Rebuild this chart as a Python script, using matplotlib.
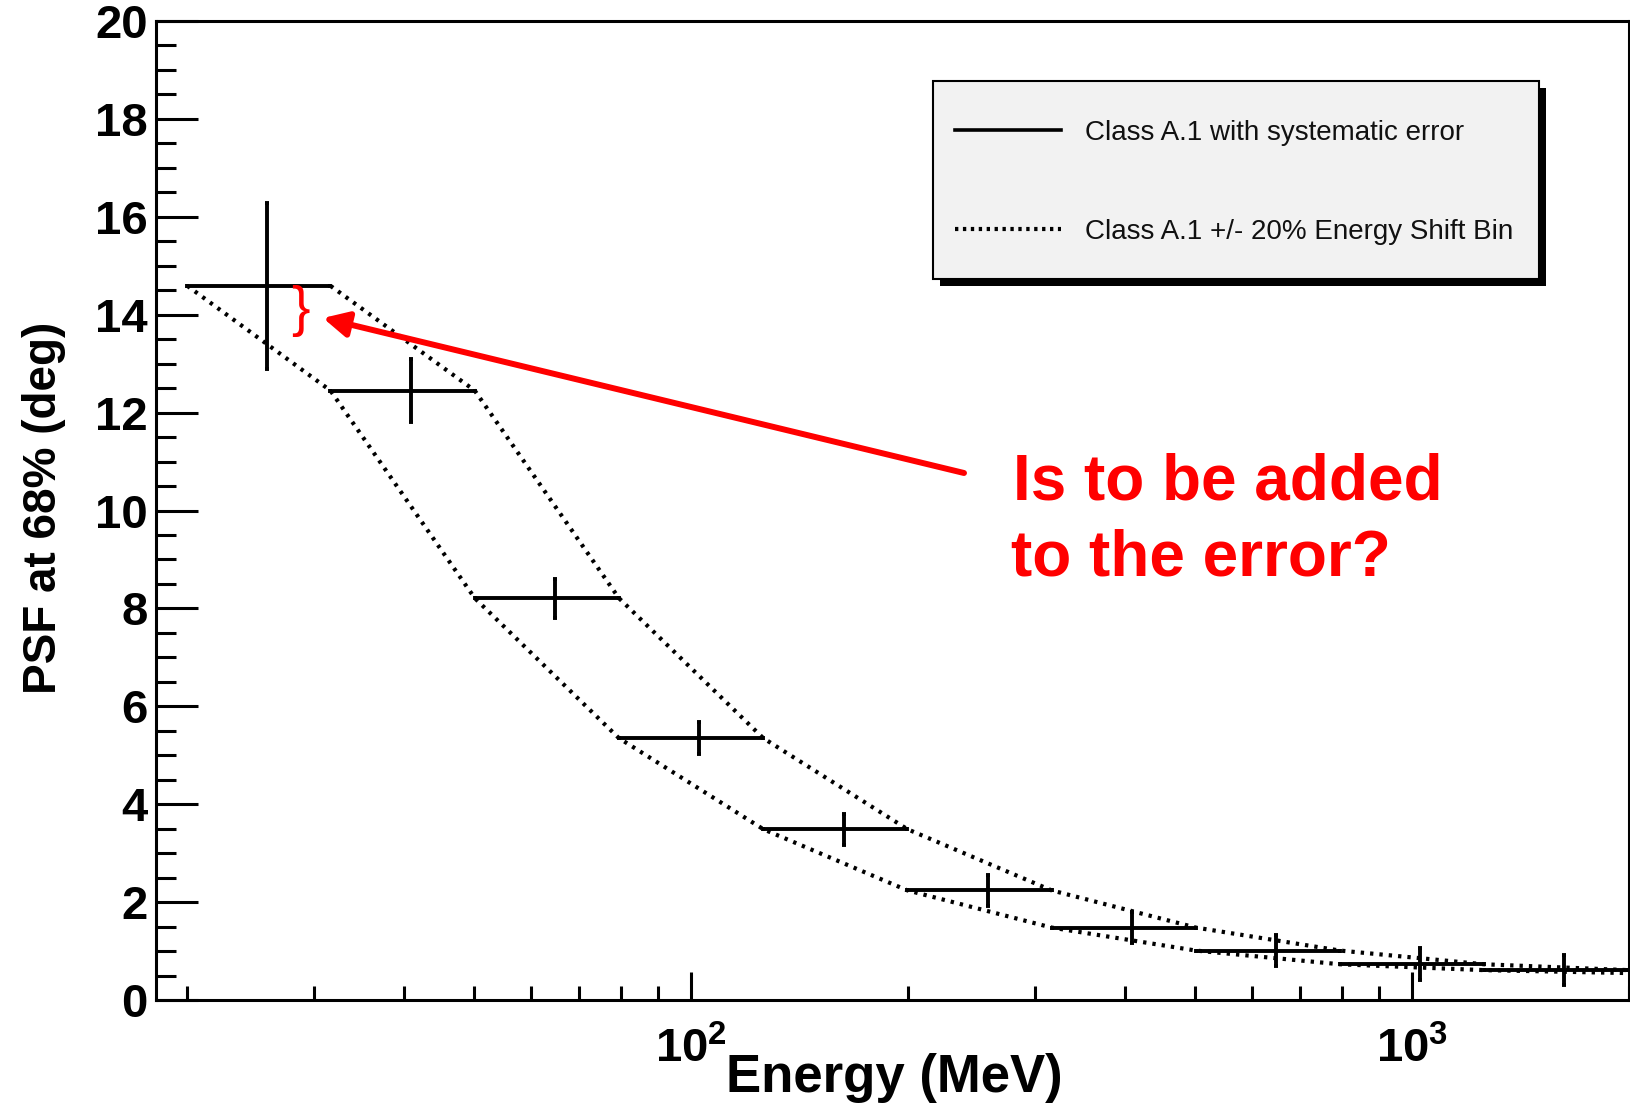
import matplotlib
matplotlib.use("Agg")
import matplotlib.pyplot as plt
import numpy as np
from matplotlib.ticker import LogLocator, FuncFormatter, MultipleLocator, NullFormatter
from matplotlib.lines import Line2D
from matplotlib.patches import Rectangle

plt.rcParams['font.family'] = ['Liberation Sans', 'DejaVu Sans']
plt.rcParams['font.weight'] = 'bold'
plt.rcParams['mathtext.fontset'] = 'custom'
plt.rcParams['mathtext.rm'] = 'Liberation Sans:bold'
plt.rcParams['mathtext.bf'] = 'Liberation Sans:bold'
plt.rcParams['mathtext.it'] = 'Liberation Sans:bold:italic'

# ---------------- data ----------------
bin_low = [20.0, 31.6, 50.1, 79.4, 125.9, 199.5, 316.2, 501.2, 794.3, 1258.9]
bin_high = [31.6, 50.1, 79.4, 125.9, 199.5, 316.2, 501.2, 794.3, 1258.9, 1995.3]
energy = [25.8, 40.9, 64.8, 102.7, 162.7, 257.9, 408.7, 647.8, 1026.6, 1627.1]
psf68 = [14.59, 12.45, 8.21, 5.35, 3.49, 2.24, 1.48, 1.01, 0.73, 0.61]
psf68_err = [1.70, 0.64, 0.40, 0.33, 0.32, 0.31, 0.31, 0.31, 0.33, 0.31]

shift_low_x = [20.0, 31.6, 50.1, 79.4, 125.9, 199.5, 316.2, 501.2, 794.3, 1258.9, 1995.3]
shift_low_y = [14.59, 12.45, 8.21, 5.35, 3.49, 2.24, 1.48, 1.01, 0.73, 0.61, 0.55]
shift_high_x = [31.6, 50.1, 79.4, 125.9, 199.5, 316.2, 501.2, 794.3, 1258.9, 1995.3]
shift_high_y = [14.59, 12.45, 8.21, 5.35, 3.49, 2.24, 1.48, 1.01, 0.73, 0.61]

legend_labels = ["Class A.1 with systematic error", "Class A.1 +/- 20% Energy Shift Bin"]
x_title = "Energy (MeV)"
y_title = "PSF at 68% (deg)"
note_lines = ["Is to be added", "to the error?"]

# ---------------- figure ----------------
W, H = 1631, 1105
fig = plt.figure(figsize=(W / 100, H / 100), dpi=100)
fig.patch.set_facecolor('white')

def fx(px):
    return px / W

def fy(py):
    return 1 - py / H

ax = fig.add_axes([fx(156), fy(1000), fx(1629) - fx(156), fy(21) - fy(1000)])

energy = np.array(energy)
xerr = [energy - np.array(bin_low), np.array(bin_high) - energy]
ax.errorbar(energy, psf68, xerr=xerr, yerr=psf68_err, fmt='none', ecolor='black',
            elinewidth=2.8, capsize=1.3, capthick=2.8, zorder=3)

dot = (0, (0.8, 1.45))
ax.plot(shift_low_x, shift_low_y, color='black', lw=3.0, ls=dot, zorder=2)
ax.plot(shift_high_x, shift_high_y, color='black', lw=3.0, ls=dot, zorder=2)

ax.set_xscale('log')
ax.set_xlim(18.1, 2000)
ax.set_ylim(0, 20)

ax.xaxis.set_major_locator(LogLocator(base=10, numticks=10))
ax.xaxis.set_minor_locator(LogLocator(base=10, subs=np.arange(2, 10), numticks=20))
ax.xaxis.set_major_formatter(FuncFormatter(lambda v, p: r'$\mathbf{10^{%d}}$' % round(np.log10(v))))
ax.xaxis.set_minor_formatter(NullFormatter())
ax.yaxis.set_major_locator(MultipleLocator(2))
ax.yaxis.set_minor_locator(MultipleLocator(0.5))

for s in ax.spines.values():
    s.set_linewidth(2.2)

ax.tick_params(axis='y', which='major', direction='in', length=30, width=2.2, pad=6,
               labelsize=34, left=True, right=False)
ax.tick_params(axis='y', which='minor', direction='in', length=14.5, width=2.2,
               left=True, right=False)
ax.tick_params(axis='x', which='major', direction='in', length=20, width=2.2, pad=20,
               labelsize=34, bottom=True, top=False)
ax.tick_params(axis='x', which='minor', direction='in', length=10, width=2.2,
               bottom=True, top=False)

ax.set_xlabel(x_title, fontsize=38, fontweight='bold')
ax.xaxis.label.set_va('baseline')
ax.xaxis.set_label_coords(0.501, -(1092 - 1000) / 979)
ax.set_ylabel(y_title, fontsize=33, fontweight='bold')
ax.yaxis.set_label_coords((66 - 156) / 1473, 0.503)

# ---------------- legend ----------------
lx0, ly0, lx1, ly1 = 933, 81, 1539, 279
shadow = Rectangle((fx(lx0 + 7), fy(ly1 + 7)), fx(lx1) - fx(lx0), fy(ly0) - fy(ly1),
                   transform=fig.transFigure, facecolor='black', edgecolor='none',
                   zorder=4, clip_on=False)
frame = Rectangle((fx(lx0), fy(ly1)), fx(lx1) - fx(lx0), fy(ly0) - fy(ly1),
                  transform=fig.transFigure, facecolor='#f2f2f2', edgecolor='black',
                  lw=1.5, zorder=4.5, clip_on=False)
ax.add_patch(shadow)
ax.add_patch(frame)

handles = [Line2D([], [], color='black', lw=2.6),
           Line2D([], [], color='black', lw=3.0, ls=(0, (0.8, 1.1)))]
fs_leg = 20
fs_px = fs_leg * 100 / 72
leg = ax.legend(handles, legend_labels, loc='upper left',
                bbox_to_anchor=(fx(955), fy(120)), bbox_transform=fig.transFigure,
                frameon=False, borderpad=0, borderaxespad=0,
                handlelength=106 / fs_px, handletextpad=24 / fs_px,
                labelspacing=2.62, prop={'family': 'Liberation Sans', 'weight': 'normal',
                                         'size': fs_leg})
leg.set_zorder(6)
for t in leg.get_texts():
    t.set_color('#111111')

# ---------------- red annotation ----------------
ax.annotate('', xy=(323, H - 318), xycoords='figure pixels',
            xytext=(964, H - 473), textcoords='figure pixels',
            arrowprops=dict(arrowstyle='-|>,head_length=0.75,head_width=0.38',
                            color='#ff0000', lw=4.3, mutation_scale=20,
                            shrinkA=0, shrinkB=0),
            annotation_clip=False, zorder=7)
fig.text(fx(300), fy(311), '}', fontsize=40, fontweight='normal', color='#ff0000',
         ha='center', va='center', family='Liberation Sans', zorder=7)

fig.text(fx(1013), fy(499), note_lines[0], fontsize=46, fontweight='bold',
         color='#ff0000', ha='left', va='baseline')
fig.text(fx(1011), fy(575), note_lines[1], fontsize=46, fontweight='bold',
         color='#ff0000', ha='left', va='baseline')

fig.savefig('out.png', dpi=100)
